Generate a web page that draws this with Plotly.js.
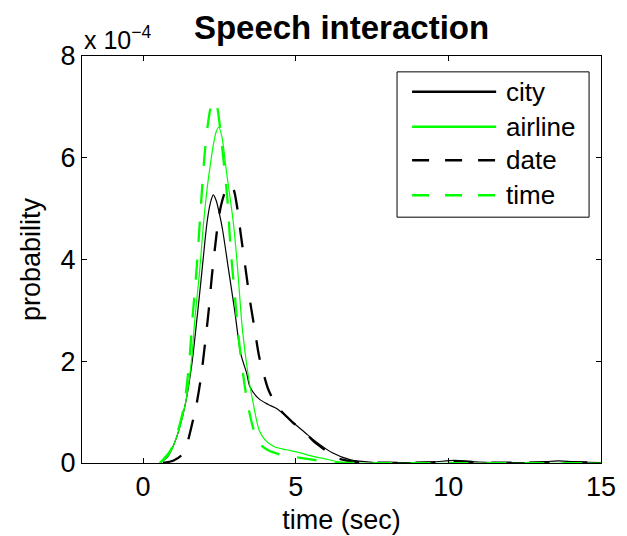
<!DOCTYPE html>
<html>
<head>
<meta charset="utf-8">
<script src="https://cdn.plot.ly/plotly-3.0.1.min.js"></script>
<style>html,body{margin:0;padding:0;background:#fff}#chart{width:627px;height:536px}</style>
</head>
<body>
<div id="chart"></div>
<script>
// Values are probabilities in units of 1e-4 (axis multiplier "x 10^-4")
const seriesNames = ['city', 'airline', 'date', 'time'];

const cityT = [0.55, 0.8, 1.0, 1.2, 1.4, 1.6, 1.75, 1.9, 2.0, 2.1, 2.2, 2.3, 2.4, 2.5, 2.6, 2.8, 3.0, 3.2, 3.4, 3.5, 3.8, 4.1, 4.4, 4.9, 5.3, 5.6, 6.2, 6.8, 7.5, 8.5, 9.5, 10.2, 11.0, 12.0, 13.0, 13.6, 14.3, 15.0];
const cityP = [0, 0.12, 0.35, 0.7, 1.2, 1.95, 2.75, 3.6, 4.2, 4.75, 5.1, 5.27, 5.15, 4.9, 4.6, 3.8, 3.0, 2.15, 1.75, 1.5, 1.26, 1.15, 1.06, 0.8, 0.6, 0.45, 0.2, 0.06, 0.015, 0.01, 0.02, 0.05, 0.02, 0.01, 0.02, 0.04, 0.02, 0.01];

const airlineT = [0.55, 0.8, 1.0, 1.2, 1.43, 1.6, 1.7, 1.85, 1.98, 2.1, 2.2, 2.3, 2.4, 2.48, 2.58, 2.74, 2.96, 3.1, 3.25, 3.45, 3.6, 3.8, 4.0, 4.3, 4.7, 5.15, 5.5, 5.9, 6.45, 7.0, 15.0];
const airlineP = [0, 0.12, 0.35, 0.7, 1.3, 2.1, 2.85, 3.75, 4.71, 5.4, 5.85, 6.25, 6.52, 6.6, 6.42, 5.69, 4.71, 3.8, 2.65, 1.7, 1.2, 0.65, 0.45, 0.32, 0.26, 0.2, 0.14, 0.09, 0.02, 0, 0];

const dateT = [0.65, 1.0, 1.27, 1.45, 1.6, 1.75, 1.9, 2.05, 2.15, 2.25, 2.35, 2.45, 2.55, 2.7, 2.85, 2.97, 3.09, 3.2, 3.35, 3.5, 3.65, 3.8, 3.95, 4.1, 4.38, 4.9, 5.3, 5.6, 6.0, 6.35, 7.0, 8.0, 9.3, 10.2, 11.2, 12.5, 13.6, 15.0];
const dateP = [0, 0.05, 0.16, 0.4, 0.75, 1.15, 1.7, 2.45, 3.0, 3.65, 4.2, 4.7, 5.05, 5.35, 5.47, 5.37, 5.0, 4.5, 3.85, 3.2, 2.65, 2.1, 1.75, 1.45, 1.12, 0.8, 0.6, 0.42, 0.24, 0.1, 0.02, 0.005, 0.01, 0.03, 0.01, 0.005, 0.02, 0.005];

const timeT = [0.55, 0.9, 1.2, 1.35, 1.5, 1.62, 1.76, 1.9, 2.01, 2.1, 2.2, 2.28, 2.34, 2.4, 2.48, 2.61, 2.76, 2.87, 3.02, 3.16, 3.4, 3.6, 3.78, 4.1, 4.6, 5.15, 5.6, 6.1, 7.0, 15.0];
const timeP = [0, 0.25, 0.75, 1.15, 1.9, 2.85, 3.86, 5.1, 6.02, 6.55, 6.95, 7.1, 7.13, 7.08, 6.8, 6.1, 5.2, 4.2, 3.2, 2.3, 1.25, 0.7, 0.4, 0.25, 0.15, 0.1, 0.06, 0.01, 0, 0];

const xTicks = [0, 5, 10, 15];
const yTicks = [0, 2, 4, 6, 8];

const GREEN = '#00ff00';
const BLACK = '#000000';
const FONT = 'Liberation Sans, Arial, Helvetica, sans-serif';
const PLOT_DASH = '20px,18px';
const LEG_DASH = '17px,16px';

const styles = [
  {color: BLACK, width: 1.2, dash: 'solid'},
  {color: GREEN, width: 1.2, dash: 'solid'},
  {color: BLACK, width: 2.3, dash: PLOT_DASH},
  {color: GREEN, width: 2.3, dash: PLOT_DASH}
];
const xs = [cityT, airlineT, dateT, timeT];
const ys = [cityP, airlineP, dateP, timeP];

const traces = seriesNames.map((n, i) => ({
  type: 'scatter', mode: 'lines', name: n,
  x: xs[i], y: ys[i],
  line: {color: styles[i].color, width: styles[i].width, dash: styles[i].dash, shape: 'spline', smoothing: 0.8},
  hoverinfo: 'skip'
}));

// Manual legend (box + line samples + labels) in paper coordinates
const legX0 = 0.607, legX1 = 0.977, legY0 = 0.604, legY1 = 0.961;
const rowY = [0.912, 0.826, 0.744, 0.658];
const shapes = [{type: 'rect', xref: 'paper', yref: 'paper', x0: legX0, x1: legX1, y0: legY0, y1: legY1,
  line: {color: BLACK, width: 1}, fillcolor: '#ffffff'}];
const annotations = [];
seriesNames.forEach((n, i) => {
  shapes.push({type: 'line', xref: 'paper', yref: 'paper', x0: 0.636, x1: 0.798, y0: rowY[i], y1: rowY[i],
    line: {color: styles[i].color, width: 2.6, dash: styles[i].dash === 'solid' ? 'solid' : LEG_DASH}});
  annotations.push({xref: 'paper', yref: 'paper', x: 0.813, y: rowY[i], xanchor: 'left', yanchor: 'middle',
    text: n, showarrow: false, font: {family: FONT, size: 26, color: BLACK}});
});
annotations.push({xref: 'paper', yref: 'paper', x: 0, y: 1, xanchor: 'left', yanchor: 'bottom', yshift: 0,
  text: 'x 10<sup>\u22124</sup>', showarrow: false, font: {family: FONT, size: 25, color: BLACK}});

const axisCommon = {
  ticks: 'inside', ticklen: 5, tickwidth: 1, tickcolor: BLACK,
  showline: true, linecolor: BLACK, linewidth: 1, mirror: 'ticks',
  showgrid: false, zeroline: false,
  tickfont: {family: FONT, size: 27, color: BLACK}
};

const layout = {
  width: 627, height: 536,
  margin: {l: 82, r: 26, t: 56, b: 73, pad: 0},
  paper_bgcolor: '#ffffff', plot_bgcolor: '#ffffff',
  showlegend: false,
  font: {family: FONT, size: 27, color: BLACK},
  title: {text: '<b>Speech interaction</b>', font: {family: FONT, size: 33, color: BLACK},
    xref: 'paper', x: 0.5, xanchor: 'center', yref: 'container', y: 0.948, yanchor: 'middle'},
  xaxis: Object.assign({}, axisCommon, {range: [-2, 15], tickvals: xTicks,
    title: {text: 'time (sec)', font: {family: FONT, size: 27, color: BLACK}, standoff: 8}}),
  yaxis: Object.assign({}, axisCommon, {range: [0, 8], tickvals: yTicks,
    title: {text: 'probability', font: {family: FONT, size: 27, color: BLACK}, standoff: 12}}),
  shapes: shapes,
  annotations: annotations
};

Plotly.newPlot('chart', traces, layout, {displayModeBar: false, staticPlot: true});
</script>
</body>
</html>
